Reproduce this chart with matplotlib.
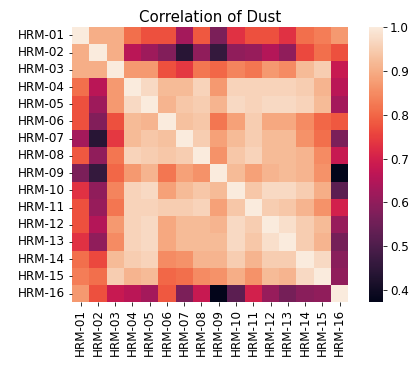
import numpy as np
import pandas as pd
import matplotlib
matplotlib.use("Agg")
import matplotlib.pyplot as plt
import seaborn as sns

# station names
stations = ["HRM-%02d" % i for i in range(1, 17)]

# correlation matrix (symmetric)
corr = [
    [1.00, 0.90, 0.90, 0.81, 0.77, 0.77, 0.63, 0.78, 0.57, 0.73, 0.77, 0.77, 0.73, 0.81, 0.83, 0.87],
    [0.90, 1.00, 0.90, 0.66, 0.62, 0.58, 0.44, 0.60, 0.46, 0.60, 0.61, 0.65, 0.60, 0.76, 0.81, 0.77],
    [0.90, 0.90, 1.00, 0.87, 0.87, 0.77, 0.74, 0.82, 0.80, 0.84, 0.82, 0.87, 0.85, 0.92, 0.95, 0.68],
    [0.81, 0.66, 0.87, 1.00, 0.97, 0.92, 0.92, 0.96, 0.87, 0.96, 0.96, 0.96, 0.96, 0.95, 0.91, 0.66],
    [0.77, 0.62, 0.87, 0.97, 1.00, 0.91, 0.94, 0.95, 0.91, 0.97, 0.96, 0.97, 0.97, 0.96, 0.92, 0.63],
    [0.77, 0.58, 0.77, 0.92, 0.91, 1.00, 0.93, 0.94, 0.82, 0.88, 0.95, 0.89, 0.89, 0.85, 0.80, 0.78],
    [0.63, 0.44, 0.74, 0.92, 0.94, 0.93, 1.00, 0.95, 0.88, 0.92, 0.95, 0.92, 0.92, 0.86, 0.81, 0.57],
    [0.78, 0.60, 0.82, 0.96, 0.95, 0.94, 0.95, 1.00, 0.86, 0.94, 0.96, 0.92, 0.92, 0.91, 0.85, 0.68],
    [0.57, 0.46, 0.80, 0.87, 0.91, 0.82, 0.88, 0.86, 1.00, 0.92, 0.88, 0.91, 0.92, 0.91, 0.86, 0.373],
    [0.73, 0.60, 0.84, 0.96, 0.97, 0.88, 0.92, 0.94, 0.92, 1.00, 0.94, 0.97, 0.97, 0.95, 0.90, 0.52],
    [0.77, 0.61, 0.82, 0.96, 0.96, 0.95, 0.95, 0.96, 0.88, 0.94, 1.00, 0.95, 0.94, 0.91, 0.86, 0.70],
    [0.77, 0.65, 0.87, 0.96, 0.97, 0.89, 0.92, 0.92, 0.91, 0.97, 0.95, 1.00, 0.98, 0.95, 0.92, 0.61],
    [0.73, 0.60, 0.85, 0.96, 0.97, 0.89, 0.92, 0.92, 0.92, 0.97, 0.94, 0.98, 1.00, 0.95, 0.91, 0.56],
    [0.81, 0.76, 0.92, 0.95, 0.96, 0.85, 0.86, 0.91, 0.91, 0.95, 0.91, 0.95, 0.95, 1.00, 0.97, 0.59],
    [0.83, 0.81, 0.95, 0.91, 0.92, 0.80, 0.81, 0.85, 0.86, 0.90, 0.86, 0.92, 0.91, 0.97, 1.00, 0.60],
    [0.87, 0.77, 0.68, 0.66, 0.63, 0.78, 0.57, 0.68, 0.373, 0.52, 0.70, 0.61, 0.56, 0.59, 0.60, 1.00],
]

df = pd.DataFrame(np.array(corr), index=stations, columns=stations)

fig = plt.figure(figsize=(414 / 72, 368 / 72), dpi=72)
ax = fig.add_axes([0.174, 0.179, 0.667, 0.748])
cax = fig.add_axes([0.891, 0.179, 0.034, 0.748])

sns.heatmap(df, ax=ax, cbar_ax=cax, cmap="rocket")
ax.set_title("Correlation of Dust", fontsize=15, pad=5)
ax.tick_params(axis="y", rotation=0, labelsize=12)
ax.tick_params(axis="x", rotation=90, labelsize=12)
cax.tick_params(labelsize=12)

fig.savefig("out.png", dpi=72)
